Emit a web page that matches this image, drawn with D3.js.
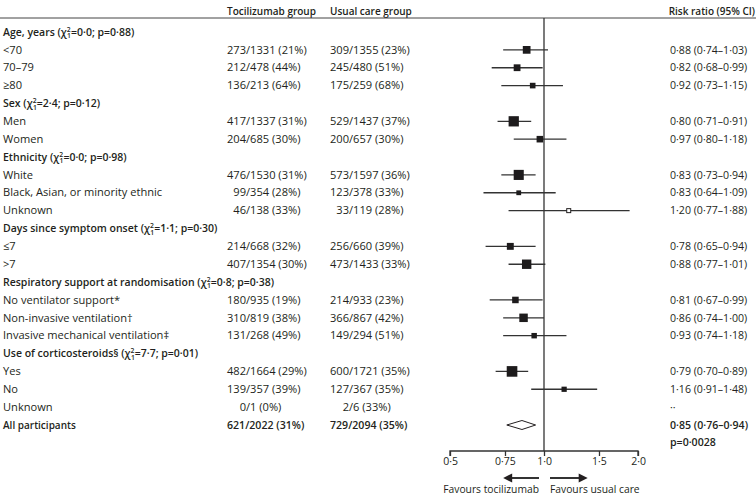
<!DOCTYPE html>
<html>
<head>
<meta charset="utf-8">
<script src="https://cdn.jsdelivr.net/npm/d3@7"></script>
<style>
  html, body { margin: 0; padding: 0; background: #fff; }
  svg text { font-family: "Open Sans", Lato, sans-serif; fill: #231f20; }
  .grp { font-stretch: 88%; }
</style>
</head>
<body>
<svg id="chart" width="756" height="496"></svg>
<script>
// ---------------- data ----------------
const rowLabels = ["Age, years", "<70", "70–79", "≥80", "Sex", "Men", "Women",
  "Ethnicity", "White", "Black, Asian, or minority ethnic", "Unknown",
  "Days since symptom onset", "≤7", ">7",
  "Respiratory support at randomisation", "No ventilator support*", "Non-invasive ventilation†", "Invasive mechanical ventilation‡",
  "Use of corticosteroids§", "Yes", "No", "Unknown", "All participants"];
const rowTypes = ["group","sub","sub","sub","group","sub","sub",
  "group","sub","sub","sub","group","sub","sub",
  "group","sub","sub","sub","group","sub","sub","sub","total"];
const groupChi = [ "0·0", null,null,null, "2·4", null,null, "0·0", null,null,null, "1·1", null,null, "0·8", null,null,null, "7·7", null,null,null, null];
const groupP   = [ "0·88",null,null,null, "0·12",null,null, "0·98",null,null,null, "0·30",null,null, "0·38",null,null,null, "0·01",null,null,null, null];
const tociEvents = [null,273,212,136,null,417,204,null,476,99,46,null,214,407,null,180,310,131,null,482,139,0,621];
const tociTotal  = [null,1331,478,213,null,1337,685,null,1530,354,138,null,668,1354,null,935,819,268,null,1664,357,1,2022];
const ucEvents   = [null,309,245,175,null,529,200,null,573,123,33,null,256,473,null,214,366,149,null,600,127,2,729];
const ucTotal    = [null,1355,480,259,null,1437,657,null,1597,378,119,null,660,1433,null,933,867,294,null,1721,367,6,2094];
const rr = [null,0.88,0.82,0.92,null,0.80,0.97,null,0.83,0.83,1.20,null,0.78,0.88,null,0.81,0.86,0.93,null,0.79,1.16,null,0.85];
const lo = [null,0.74,0.68,0.73,null,0.71,0.80,null,0.73,0.64,0.77,null,0.65,0.77,null,0.67,0.74,0.74,null,0.70,0.91,null,0.76];
const hi = [null,1.03,0.99,1.15,null,0.91,1.18,null,0.94,1.09,1.88,null,0.94,1.01,null,0.99,1.00,1.18,null,0.89,1.48,null,0.94];
const tickValues = [0.5, 0.75, 1, 1.5, 2];
const tickLabels = ["0·5", "0·75", "1·0", "1·5", "2·0"];
const headers = ["Tocilizumab group", "Usual care group", "Risk ratio (95% CI)"];
const overallP = "p=0·0028";
const favourLabels = ["Favours tocilizumab", "Favours usual care"];

// ---------------- layout ----------------
const svg = d3.select("#chart");
const FS = 11.1;      // body text
const FH = 10;        // bold text
const FG = 10.5;      // group headings
const BOLD = 600;
const ink = "#231f20";
const n = rowLabels.length;
const y = d3.scalePoint().domain(d3.range(n)).range([32, 425]);
const x = d3.scaleLog().domain([0.5, 2]).range([450, 638]);
const axisY = 451;
const colToci = 227, colUC = 330, colRR = 670;
const fmt = v => v.toFixed(2).replace(".", "·");
const pct = (e, t) => Math.round(e / t * 100) + "%";

// header
const hdr = svg.append("g").attr("font-size", FH).attr("font-weight", BOLD);
hdr.append("text").attr("x", colToci).attr("y", 15).text(headers[0]);
hdr.append("text").attr("x", colUC).attr("y", 15).text(headers[1]);
hdr.append("text").attr("x", 755).attr("y", 15).attr("text-anchor", "end").text(headers[2]);
svg.append("line").attr("x1", 0).attr("x2", 756).attr("y1", 18).attr("y2", 18)
  .attr("stroke", "#444").attr("stroke-width", 1);

// null line
svg.append("line").attr("x1", x(1)).attr("x2", x(1)).attr("y1", 18).attr("y2", axisY)
  .attr("stroke", "#333").attr("stroke-width", 1.3);

// measuring helper
const meas = svg.append("text").attr("visibility", "hidden");
function tw(s, size, weight) { meas.attr("font-size", size).attr("font-weight", weight).text(s); return meas.node().getComputedTextLength(); }

const rows = svg.append("g");
d3.range(n).forEach(i => {
  const yy = y(i) + 3.7;
  const type = rowTypes[i];
  const bold = type !== "sub";
  const size = bold ? FH : FS;
  const w = bold ? BOLD : 400;
  if (type === "group") {
    const t = rows.append("text").attr("class", "grp").attr("x", 3).attr("y", yy)
      .attr("font-size", FG).attr("font-weight", BOLD);
    t.append("tspan").text(rowLabels[i] + " (χ");
    t.append("tspan").attr("font-size", 6.8).attr("dy", -3.8).text("2");
    t.append("tspan").attr("font-size", 6.8).attr("dx", -3.6).attr("dy", 6.2).text("1");
    t.append("tspan").attr("dy", -2.4).text("=" + groupChi[i] + "; p=" + groupP[i] + ")");
  } else {
    rows.append("text").attr("x", 3).attr("y", yy).attr("font-size", size).attr("font-weight", w).text(rowLabels[i]);
  }
  if (tociEvents[i] !== null) {
    const ns = bold ? 10.6 : FS;
    const slashToci = colToci + tw("476", ns, w);
    const slashUC = colUC + tw("309", ns, w);
    rows.append("text").attr("x", slashToci).attr("y", yy).attr("text-anchor", "end")
      .attr("font-size", ns).attr("font-weight", w).text(tociEvents[i]);
    rows.append("text").attr("x", slashToci).attr("y", yy).attr("font-size", ns).attr("font-weight", w)
      .text("/" + tociTotal[i] + " (" + pct(tociEvents[i], tociTotal[i]) + ")");
    rows.append("text").attr("x", slashUC).attr("y", yy).attr("text-anchor", "end")
      .attr("font-size", ns).attr("font-weight", w).text(ucEvents[i]);
    rows.append("text").attr("x", slashUC).attr("y", yy).attr("font-size", ns).attr("font-weight", w)
      .text("/" + ucTotal[i] + " (" + pct(ucEvents[i], ucTotal[i]) + ")");
    const rrText = rr[i] !== null ? fmt(rr[i]) + " (" + fmt(lo[i]) + "–" + fmt(hi[i]) + ")" : "··";
    rows.append("text").attr("x", colRR).attr("y", yy).attr("font-size", 10.6)
      .attr("font-weight", w).text(rrText);
  }
});
rows.append("text").attr("x", colRR).attr("y", y(n - 1) + 3.7 + 17.5).attr("font-size", 10.6)
  .attr("font-weight", BOLD).text(overallP);

// forest marks
const marks = svg.append("g");
d3.range(n).forEach(i => {
  if (rr[i] === null) return;
  const yy = y(i);
  if (rowTypes[i] === "total") {
    marks.append("path")
      .attr("d", `M${x(lo[i])},${yy} L${x(rr[i])},${yy - 4.5} L${x(hi[i])},${yy} L${x(rr[i])},${yy + 4.5} Z`)
      .attr("fill", "#fff").attr("stroke", ink).attr("stroke-width", 1);
    return;
  }
  marks.append("line").attr("x1", x(lo[i])).attr("x2", x(hi[i])).attr("y1", yy).attr("y2", yy)
    .attr("stroke", "#333").attr("stroke-width", 1.3);
  const side = 2.55 / Math.log(hi[i] / lo[i]);
  if (side < 4) {
    marks.append("rect").attr("x", x(rr[i]) - 2).attr("y", yy - 2).attr("width", 4).attr("height", 4)
      .attr("fill", "#fff").attr("stroke", ink).attr("stroke-width", 1);
  } else {
    marks.append("rect").attr("x", x(rr[i]) - side / 2).attr("y", yy - side / 2)
      .attr("width", side).attr("height", side).attr("fill", "#1d1b1c");
  }
});

// axis
const axis = d3.axisBottom(x).tickValues(tickValues).tickSize(5).tickPadding(2)
  .tickFormat((d, i) => tickLabels[i]);
const ag = svg.append("g").attr("transform", `translate(0,${axisY})`).call(axis);
ag.select(".domain").attr("stroke", "#333").attr("stroke-width", 1.3).attr("d", `M${x(0.5)},5V0H${x(2)}V5`);
ag.selectAll(".tick line").attr("stroke", "#333").attr("stroke-width", 1.3);
ag.selectAll(".tick text").attr("font-size", 10.5).attr("font-family", "'Open Sans', sans-serif").attr("fill", ink);

// arrows
const arrowY = 478;
function arrow(x1, x2) {
  const dir = Math.sign(x2 - x1);
  svg.append("line").attr("x1", x1).attr("x2", x2 - dir * 7).attr("y1", arrowY).attr("y2", arrowY)
    .attr("stroke", "#333").attr("stroke-width", 2);
  svg.append("path").attr("d", `M${x2},${arrowY} L${x2 - dir * 9},${arrowY - 4.5} L${x2 - dir * 9},${arrowY + 4.5} Z`)
    .attr("fill", ink);
}
arrow(x(1) - 5, x(0.74));
arrow(x(1) + 6, x(1.38));
svg.append("text").attr("x", x(1) - 5).attr("y", 493).attr("text-anchor", "end").attr("font-size", 10.3).text(favourLabels[0]);
svg.append("text").attr("x", x(1) + 6).attr("y", 493).attr("font-size", 10.3).text(favourLabels[1]);
</script>
</body>
</html>
